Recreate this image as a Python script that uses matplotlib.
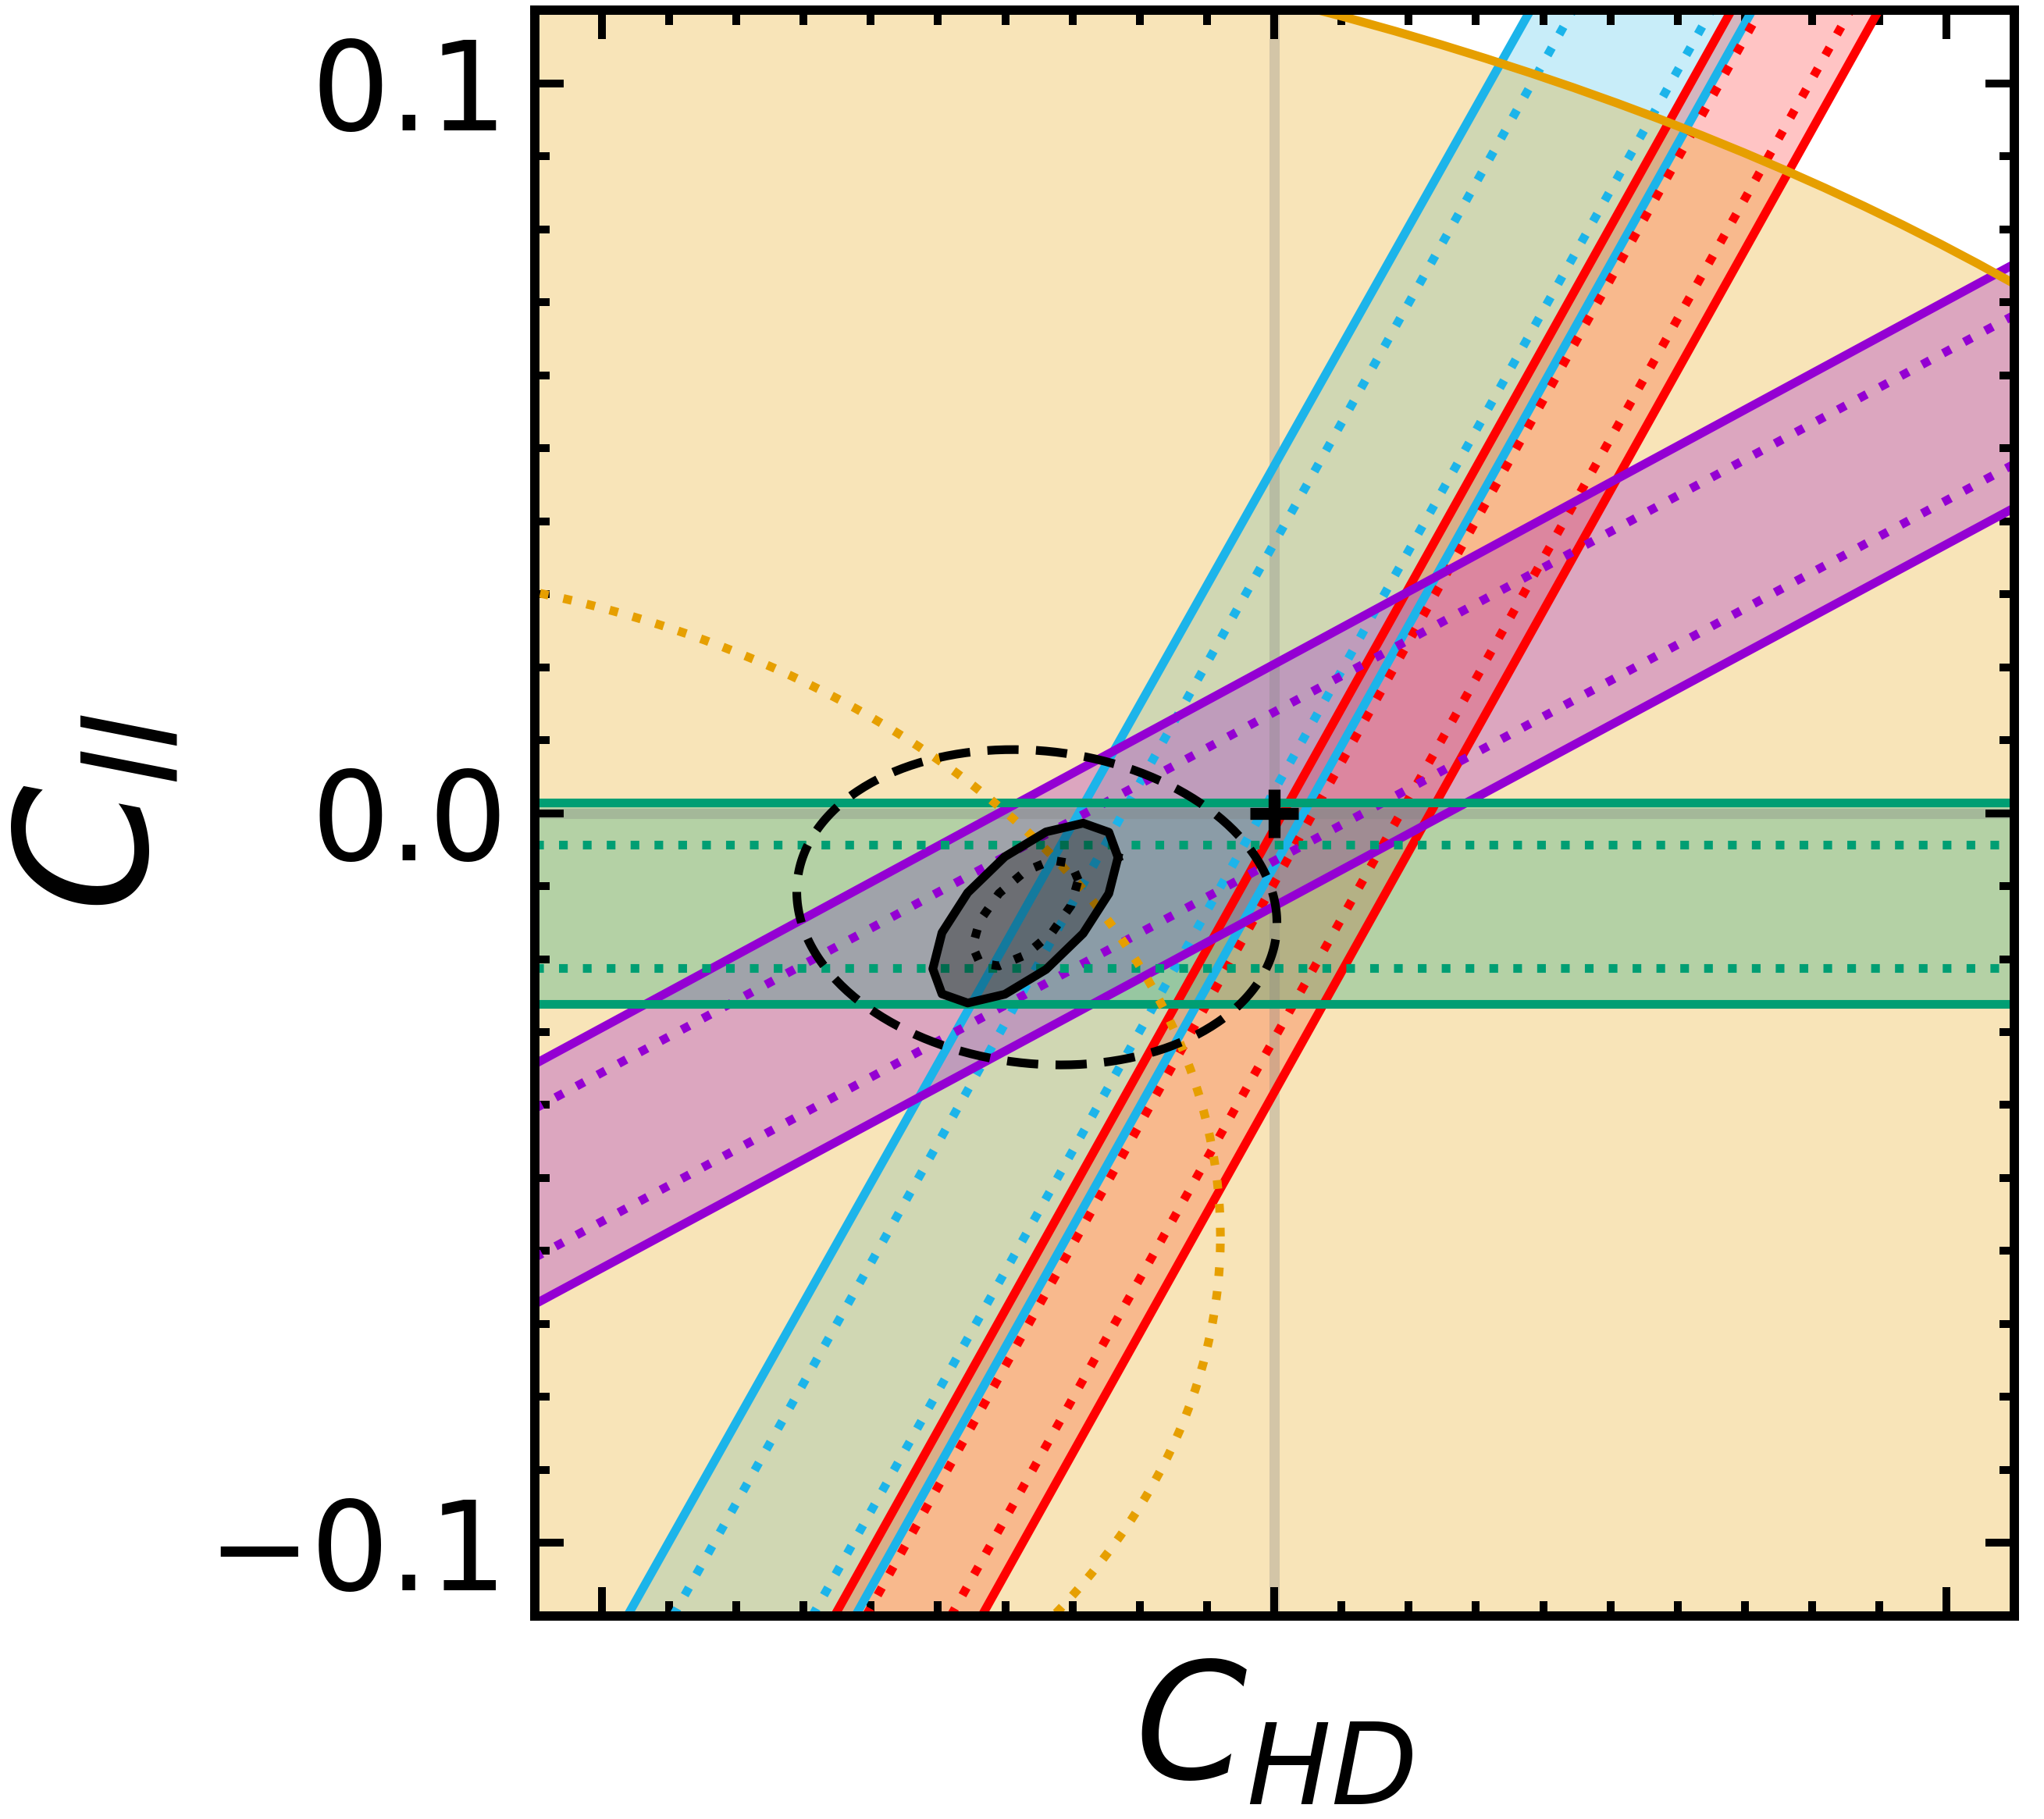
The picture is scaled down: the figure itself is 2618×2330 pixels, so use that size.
import numpy as np
import matplotlib.pyplot as plt
from matplotlib.ticker import MultipleLocator

# straight band edges, order: solid, dotted, dotted, solid
cyan_x_bottom = [-0.0962, -0.0894, -0.0687, -0.0623]   # x where the line meets y = -0.11
cyan_x_top = [0.0381, 0.0444, 0.0650, 0.0711]          # x where the line meets y = +0.11
red_x_bottom = [-0.0654, -0.0607, -0.0481, -0.0435]
red_x_top = [0.0680, 0.0723, 0.0857, 0.0899]
purple_y_left = [-0.0344, -0.0405, -0.0609, -0.0673]   # y at x = -0.11
purple_y_right = [0.0752, 0.0682, 0.0478, 0.0418]      # y at x = +0.11
green_y = [0.0014, -0.0043, -0.0212, -0.0262]

# ellipses: centre x, centre y, half width, half height, correlation
orange_outer = (-0.150, -0.058, 0.365, 0.186, 0.0)
orange_inner = (-0.150, -0.058, 0.142, 0.092, 0.0)
fit_wide = (-0.0353, -0.0129, 0.0357, 0.0216, -0.1)
fit_95 = (-0.0370, -0.0137, 0.01377, 0.01232, 0.62)
fit_68 = (-0.0370, -0.0137, 0.00785, 0.00732, 0.62)

sm_point = (0.0, 0.0)
lim = 0.11

ORANGE = '#E69F00'
CYAN = '#1CB4EA'
RED = '#FF0000'
PURPLE = '#9400D3'
GREEN = '#009E73'

LW = 4.0
DOT = (0, (1, 1.75))


def ellipse(cx, cy, sx, sy, rho, n=300):
    t = np.linspace(0, 2 * np.pi, n)
    x = cx + sx * np.cos(t)
    y = cy + sy * (rho * np.cos(t) + np.sqrt(1 - rho ** 2) * np.sin(t))
    return x, y


fig = plt.figure(figsize=(13.09, 11.65), dpi=200)
ax = fig.add_axes([0.2615, 0.1116, 0.7238, 0.8828])
yy = [-lim, lim]
xx = [-lim, lim]

# fills
ax.fill_betweenx(yy, [cyan_x_bottom[0], cyan_x_top[0]], [cyan_x_bottom[3], cyan_x_top[3]],
                 color=CYAN, alpha=0.24, lw=0, zorder=1.0)
ax.fill_betweenx(yy, [red_x_bottom[0], red_x_top[0]], [red_x_bottom[3], red_x_top[3]],
                 color=RED, alpha=0.23, lw=0, zorder=1.1)
ox, oy = ellipse(*orange_outer)
ax.fill(ox, oy, color=ORANGE, alpha=0.28, lw=0, zorder=1.2)
ax.fill_between(xx, [purple_y_left[0], purple_y_right[0]], [purple_y_left[3], purple_y_right[3]],
                color=PURPLE, alpha=0.27, lw=0, zorder=1.3)
ax.fill_between(xx, [green_y[0]] * 2, [green_y[3]] * 2, color=GREEN, alpha=0.27, lw=0, zorder=1.4)

# zero lines
ax.axvline(0, color='gray', alpha=0.3, lw=4.7, zorder=1.5)
ax.axhline(0, color='gray', alpha=0.3, lw=4.7, zorder=1.5)

# band edges
for i in range(4):
    ls = '-' if i in (0, 3) else DOT
    ax.plot([cyan_x_bottom[i], cyan_x_top[i]], yy, color=CYAN, lw=LW, ls=ls, zorder=2)
    ax.plot([red_x_bottom[i], red_x_top[i]], yy, color=RED, lw=LW, ls=ls, zorder=2.1)
    ax.plot(xx, [purple_y_left[i], purple_y_right[i]], color=PURPLE, lw=LW, ls=ls, zorder=2.2)
    ax.plot(xx, [green_y[i]] * 2, color=GREEN, lw=LW, ls=ls, zorder=2.3)

ax.plot(ox, oy, color=ORANGE, lw=LW, zorder=2.4)
ix, iy = ellipse(*orange_inner)
ax.plot(ix, iy, color=ORANGE, lw=LW, ls=DOT, zorder=2.4)

# fit contours
px, py = ellipse(*fit_95, n=15)
ax.fill(px, py, color='black', alpha=0.32, lw=0, zorder=3)
ax.plot(px, py, color='black', lw=LW, zorder=4)
dx, dy = ellipse(*fit_68, n=13)
ax.plot(dx, dy, color='black', lw=LW, ls=DOT, zorder=4)
wx, wy = ellipse(*fit_wide)
ax.plot(wx, wy, color='black', lw=LW, ls=(0, (3.6, 2.0)), zorder=4)

ax.plot(*sm_point, marker='+', color='black', ms=22, mew=5.5, zorder=5)

ax.set_xlim(-lim, lim)
ax.set_ylim(-lim, lim)
ax.set_xticks([-0.1, 0.0, 0.1])
ax.set_yticks([-0.1, 0.0, 0.1])
ax.xaxis.set_minor_locator(MultipleLocator(0.01))
ax.yaxis.set_minor_locator(MultipleLocator(0.01))
ax.tick_params(which='both', direction='in', top=True, right=True, width=3.6,
               labelbottom=False, labelsize=57, pad=12.5)
ax.tick_params(which='major', length=13.3)
ax.tick_params(which='minor', length=6.8)
for s in ax.spines.values():
    s.set_linewidth(4.3)

ax.set_xlabel(r'$C_{HD}$', fontsize=74)
ax.xaxis.set_label_coords(0.5, -0.025)
ax.set_ylabel(r'$C_{ll}$', fontsize=84)
ax.yaxis.set_label_coords(-0.235, 0.5)

fig.savefig('out.png', dpi=200)
